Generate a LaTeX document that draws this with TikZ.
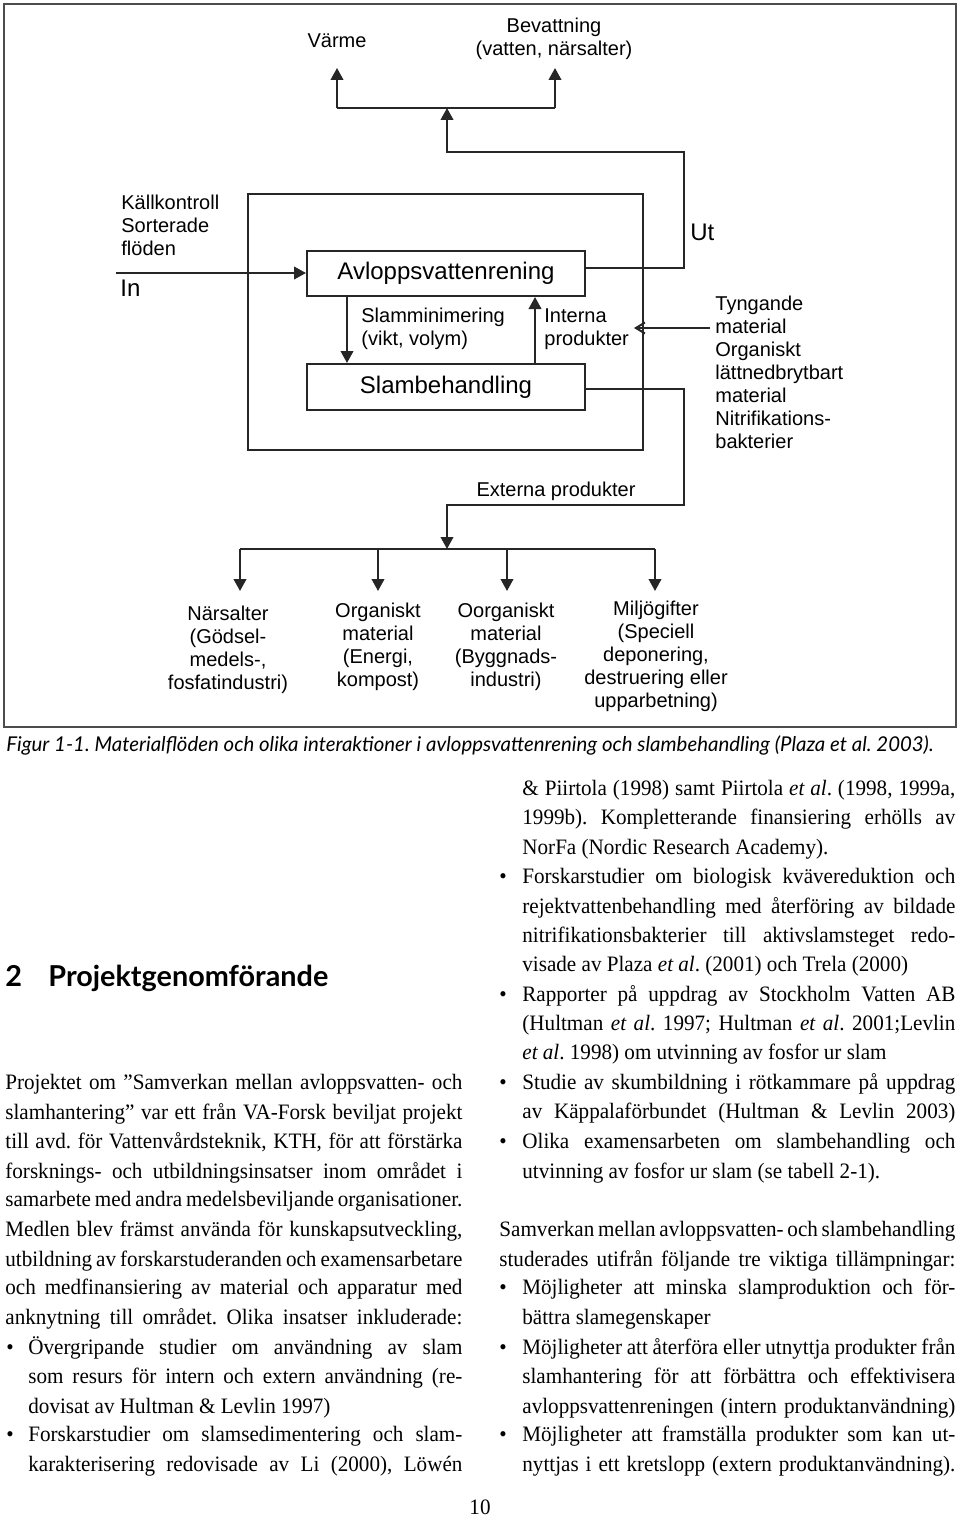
\documentclass[tikz,border=0pt]{standalone}
\usepackage{fontspec}
\setmainfont[FakeStretch=0.96]{Liberation Serif}
\setsansfont{Liberation Sans}
\newfontfamily\headfont{Lato}
\usetikzlibrary{arrows.meta,calc}
\frenchspacing
\newcounter{lnno}
\newcommand\bodyfont{\rmfamily\fontsize{11pt}{14.7pt}\selectfont\frenchspacing}
% justified line: x, y(center), width, text
\newcommand\J[4]{\stepcounter{lnno}\node[anchor=base west,inner sep=0pt] (ln\thelnno) at (#1,#2+6) {\bodyfont\makebox[#3][s]{#4}};}
% left-aligned line
\newcommand\Ln[3]{\stepcounter{lnno}\node[anchor=base west,inner sep=0pt] (ln\thelnno) at (#1,#2+6) {\bodyfont #3};}
% bullet
\newcommand\B[2]{\stepcounter{lnno}\node[anchor=base,inner sep=0pt] (bu\thelnno) at (#1,#2+6) {\bodyfont •};}
\begin{document}
\begin{tikzpicture}[x=0.5pt,y=-0.5pt,
  lbl/.style={font=\sffamily\fontsize{10pt}{11.5pt}\selectfont, inner sep=0pt},
  bigl/.style={font=\sffamily\fontsize{12pt}{14pt}\selectfont, inner sep=0pt},
  procbox/.style={draw=black!85, line width=1pt, minimum width=139pt, minimum height=23pt, inner sep=0pt, font=\sffamily\fontsize{12pt}{14pt}\selectfont},
  conn/.style={draw=black!85, line width=1pt},
  arr/.style={conn, -{Triangle[length=6pt,width=6.3pt]}},
  openarr/.style={conn, -{Straight Barb[length=4.5pt,width=5.5pt]}},
  frame/.style={draw=black!70, line width=0.7pt}]
\fill[white] (0,0) rectangle (960,1520);
\useasboundingbox (0,0) rectangle (960,1520);
% ---------------- figure frame
\node[frame, minimum width=476pt, minimum height=361.5pt, inner sep=0pt] (frm) at (480,365.5) {};
% ---------------- boxes
\node[procbox, minimum width=197.5pt, minimum height=128pt] (sys) at (445.5,322) {};
\node[procbox, minimum height=22.5pt] (avl) at (446,273.5) {Avloppsvattenrening};
\node[procbox] (slam) at (446,387) {Slambehandling};
% ---------------- top outputs
\node[lbl] (varme) at (337,41) {Värme};
\node[lbl, align=center] (bev) at (554,39) {Bevattning\\(vatten, närsalter)};
\coordinate (jl) at (337,108);
\coordinate (jr) at (555,108);
\coordinate (jm) at (447,108);
\coordinate (vt) at (337,68);
\coordinate (bt) at (555,68);
\draw[conn] (jl) -- (jr);
\draw[arr] (jl) -- (vt);
\draw[arr] (jr) -- (bt);
\coordinate (u1) at (684,268);
\coordinate (u2) at (684,152);
\coordinate (u3) at (447,152);
\draw[arr] (avl.east |- u1) -- (u1) -- (u2) -- (u3) -- (jm);
\node[bigl, anchor=west] (ut) at (690,232) {Ut};
% ---------------- input
\node[lbl, align=left, anchor=west] (kall) at (121,225) {Källkontroll\\Sorterade\\flöden};
\node[bigl, anchor=west] (in) at (120,288) {In};
\coordinate (instart) at (116,273);
\draw[arr] (instart) -- (avl.west |- instart);
% ---------------- internal flows
\coordinate (xl) at (347,330);
\coordinate (xr) at (535,330);
\draw[arr] (avl.south -| xl) -- (slam.north -| xl);
\draw[arr] (slam.north -| xr) -- (avl.south -| xr);
\node[lbl, align=left, anchor=west] (smin) at (361,329) {Slamminimering\\(vikt, volym)};
\node[lbl, align=left, anchor=west] (intp) at (544,329) {Interna\\produkter};
% ---------------- external input
\node[lbl, align=left, anchor=west] (tyng) at (715,372) {Tyngande\\material\\Organiskt\\lättnedbrytbart\\material\\Nitrifikations-\\bakterier};
\coordinate (chs) at (710,328);
\coordinate (cht) at (634,328);
\draw[openarr] (chs) -- (cht);
% ---------------- external products
\coordinate (s1) at (684,389);
\coordinate (s2) at (684,505);
\coordinate (s3) at (447,505);
\coordinate (s4) at (447,549);
\draw[arr] (slam.east |- s1) -- (s1) -- (s2) -- (s3) -- (s4);
\node[lbl] (ext) at (556,491) {Externa produkter};
\coordinate (b1) at (240,549);
\coordinate (b2) at (378,549);
\coordinate (b3) at (507,549);
\coordinate (b4) at (655,549);
\coordinate (d1) at (240,591);
\coordinate (d2) at (378,591);
\coordinate (d3) at (507,591);
\coordinate (d4) at (655,591);
\draw[conn] (b1) -- (b4);
\draw[arr] (b1) -- (d1);
\draw[arr] (b2) -- (d2);
\draw[arr] (b3) -- (d3);
\draw[arr] (b4) -- (d4);
\node[lbl, align=center] (nars) at (228,650) {Närsalter\\(Gödsel-\\medels-,\\fosfatindustri)};
\node[lbl, align=center] (org) at (378,647) {Organiskt\\material\\(Energi,\\kompost)};
\node[lbl, align=center] (oorg) at (506,647) {Oorganiskt\\material\\(Byggnads-\\industri)};
\node[lbl, align=center] (milj) at (656,656) {Miljögifter\\(Speciell\\deponering,\\destruering eller\\upparbetning)};
% ---------------- caption
\node[anchor=base west, inner sep=0pt, font=\headfont\itshape\fontsize{10.2pt}{12pt}\selectfont] (cap) at (6,751) {Figur 1-1. Materialflöden och olika interaktioner i avloppsvattenrening och slambehandling (Plaza et al. 2003).};
% ---------------- heading
\node[anchor=base west, inner sep=0pt, font=\headfont\bfseries\fontsize{14.4pt}{16pt}\selectfont] (hn) at (5,986) {2};
\node[anchor=base west, inner sep=0pt, font=\headfont\bfseries\fontsize{14.4pt}{16pt}\selectfont] (ht) at (48,986) {Projektgenomförande};
% ---------------- left column
\J{5}{1083}{228.5pt}{Projektet om ”Samverkan mellan avloppsvatten- och}
\J{5}{1113}{228.5pt}{slamhantering” var ett från VA-Forsk beviljat projekt}
\J{5}{1142}{228.5pt}{till avd. för Vattenvårdsteknik, KTH, för att förstärka}
\J{5}{1172}{228.5pt}{forsknings- och utbildningsinsatser inom området i}
\J{5}{1200}{228.5pt}{samarbete med andra medelsbeviljande organisationer.}
\J{5}{1230}{228.5pt}{Medlen blev främst använda för kunskapsutveckling,}
\J{5}{1260}{228.5pt}{utbildning av forskarstuderanden och examensarbetare}
\J{5}{1288}{228.5pt}{och medfinansiering av material och apparatur med}
\J{5}{1318}{228.5pt}{anknytning till området. Olika insatser inkluderade:}
\B{10}{1348}
\J{28}{1348}{217pt}{Övergripande studier om användning av slam}
\J{28}{1377}{217pt}{som resurs för intern och extern användning (re-}
\Ln{28}{1407}{dovisat av Hultman \& Levlin 1997)}
\B{10}{1435}
\J{28}{1435}{217pt}{Forskarstudier om slamsedimentering och slam-}
\J{28}{1465}{217pt}{karakterisering redovisade av Li (2000), Löwén}
% ---------------- right column
\J{522}{789}{216.5pt}{\& Piirtola (1998) samt Piirtola \textit{et al}. (1998, 1999a,}
\J{522}{818}{216.5pt}{1999b). Kompletterande finansiering erhölls av}
\Ln{522}{848}{NorFa (Nordic Research Academy).}
\B{503}{877}
\J{522}{877}{216.5pt}{Forskarstudier om biologisk kvävereduktion och}
\J{522}{907}{216.5pt}{rejektvattenbehandling med återföring av bildade}
\J{522}{936}{216.5pt}{nitrifikationsbakterier till aktivslamsteget redo-}
\Ln{522}{965}{visade av Plaza \textit{et al}. (2001) och Trela (2000)}
\B{503}{995}
\J{522}{995}{216.5pt}{Rapporter på uppdrag av Stockholm Vatten AB}
\J{522}{1024}{216.5pt}{(Hultman \textit{et al}. 1997; Hultman \textit{et al}. 2001;Levlin}
\Ln{522}{1053}{\textit{et al}. 1998) om utvinning av fosfor ur slam}
\B{503}{1083}
\J{522}{1083}{216.5pt}{Studie av skumbildning i rötkammare på uppdrag}
\J{522}{1112}{216.5pt}{av Käppalaförbundet (Hultman \& Levlin 2003)}
\B{503}{1142}
\J{522}{1142}{216.5pt}{Olika examensarbeten om slambehandling och}
\Ln{522}{1172}{utvinning av fosfor ur slam (se tabell 2-1).}
\J{499}{1230}{228pt}{Samverkan mellan avloppsvatten- och slambehandling}
\J{499}{1260}{228pt}{studerades utifrån följande tre viktiga tillämpningar:}
\B{503}{1288}
\J{522}{1288}{216.5pt}{Möjligheter att minska slamproduktion och för-}
\Ln{522}{1318}{bättra slamegenskaper}
\B{503}{1348}
\J{522}{1348}{216.5pt}{Möjligheter att återföra eller utnyttja produkter från}
\J{522}{1377}{216.5pt}{slamhantering för att förbättra och effektivisera}
\J{522}{1407}{216.5pt}{avloppsvattenreningen (intern produktanvändning)}
\B{503}{1435}
\J{522}{1435}{216.5pt}{Möjligheter att framställa produkter som kan ut-}
\J{522}{1465}{216.5pt}{nyttjas i ett kretslopp (extern produktanvändning).}
% ---------------- page number
\node[anchor=base, inner sep=0pt] (pg) at (480,1514) {\bodyfont 10};
\end{tikzpicture}
\end{document}
